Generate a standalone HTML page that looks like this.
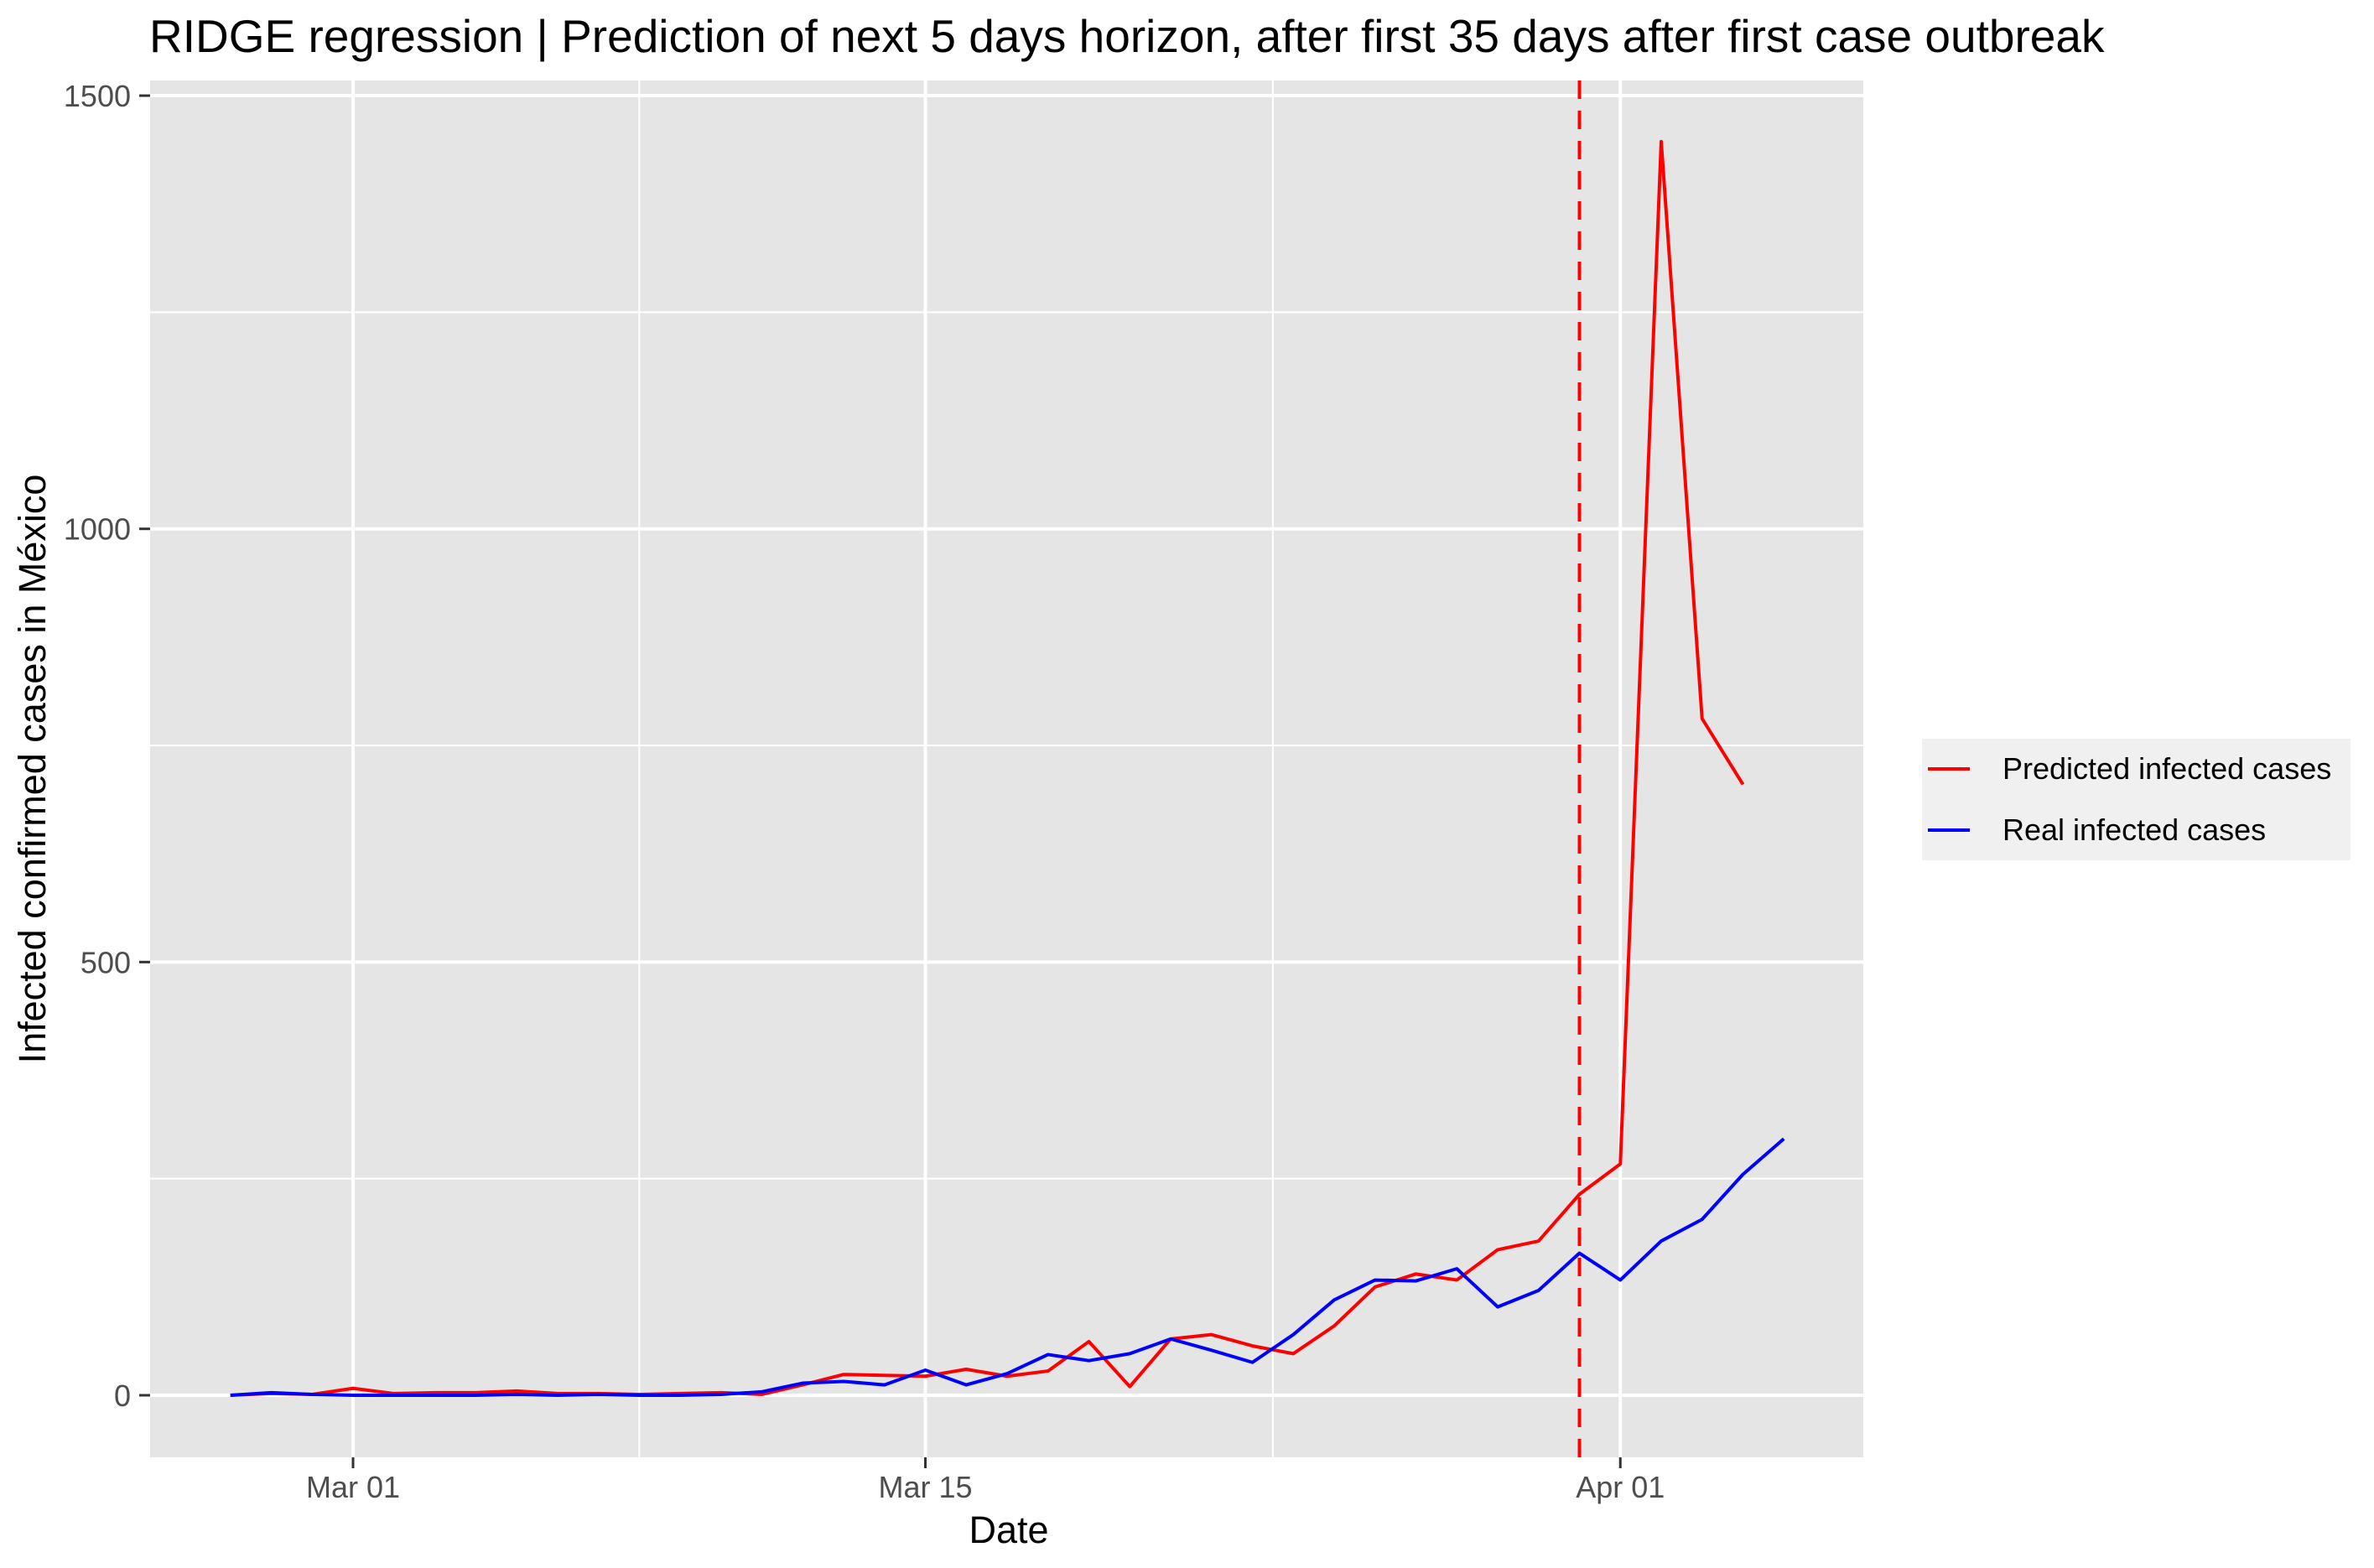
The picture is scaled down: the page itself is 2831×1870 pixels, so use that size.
<!DOCTYPE html>
<html><head><meta charset="utf-8"><style>
body{margin:0;background:#fff}
svg{display:block;font-family:"Liberation Sans",Arial,sans-serif}
</style></head><body>
<svg id="chart" width="2831" height="1870" viewBox="0 0 2831 1870">
<text x="178" y="62" font-size="55" fill="#000">RIDGE regression | Prediction of next 5 days horizon, after first 35 days after first case outbreak</text>
<rect x="179" y="96" width="2043" height="1642" fill="#e5e5e5"/>
<g id="grid"></g>
<g id="axes"></g>
<g id="series"></g>
<text x="1203" y="1840" font-size="45" text-anchor="middle" fill="#000">Date</text>
<text transform="translate(54,917) rotate(-90)" font-size="45" text-anchor="middle" fill="#000">Infected confirmed cases in México</text>
<g>
<rect x="2292" y="881" width="511" height="145" fill="#f0f0f0"/>
<line x1="2299" y1="917" x2="2349" y2="917" stroke="#ff0000" stroke-width="4"/>
<text x="2388" y="929" font-size="36" fill="#000">Predicted infected cases</text>
<line x1="2299" y1="990" x2="2349" y2="990" stroke="#0000ff" stroke-width="4"/>
<text x="2388" y="1002" font-size="36" fill="#000">Real infected cases</text>
</g>
</svg>
<script>
const startDay = -3; // Feb 27 relative to Mar 01
const predicted = [0,2,1,8,2,3,3,5,2,2,1,2,3,1,12,24,23,22,30,22,28,62,10,65,70,57,48,80,125,140,133,168,178,232,267,1447,781,705];
const real = [0,3,1,0,0,0,0,1,0,1,0,0,1,4,14,16,12,29,12,25,47,40,48,65,52,38,70,110,133,132,146,102,121,164,133,178,203,255,296];
const yTicks = [0,500,1000,1500];
const yMinor = [250,750,1250];
const xTickDays = [0,14,31];
const xTickLabels = ["Mar 01","Mar 15","Apr 01"];
const xMinorDays = [7,22.5];
const cutoffDay = 30;

const X0 = 421, DAY = 48.75;
const xs = d => X0 + d*DAY;
const Y0 = 1664, YS = 1.0333;
const ys = v => Y0 - v*YS;
const NS = "http://www.w3.org/2000/svg";
function mk(tag, attrs, parent){const e=document.createElementNS(NS,tag);for(const k in attrs)e.setAttribute(k,attrs[k]);parent.appendChild(e);return e;}
const grid=document.getElementById('grid'), axes=document.getElementById('axes'), series=document.getElementById('series');

yMinor.forEach(v=>{const e=mk('line',{x1:179,x2:2222,y1:ys(v),y2:ys(v),stroke:'#fff','stroke-width':2},grid);

});
xMinorDays.forEach(d=>{const e=mk('line',{x1:xs(d),x2:xs(d),y1:96,y2:1738,stroke:'#fff','stroke-width':2},grid);

});
yTicks.forEach(v=>{const e=mk('line',{x1:179,x2:2222,y1:ys(v),y2:ys(v),stroke:'#fff','stroke-width':4},grid);


const t=mk('line',{x1:166,x2:179,y1:ys(v),y2:ys(v),stroke:'#333','stroke-width':3},axes);


const l=mk('text',{x:156,y:ys(v)+13,'font-size':36,'text-anchor':'end',fill:'#4d4d4d'},axes);l.textContent=v;

});
xTickDays.forEach((d,i)=>{const e=mk('line',{x1:xs(d),x2:xs(d),y1:96,y2:1738,stroke:'#fff','stroke-width':4},grid);


const t=mk('line',{x1:xs(d),x2:xs(d),y1:1738,y2:1751,stroke:'#333','stroke-width':3},axes);


const l=mk('text',{x:xs(d),y:1786,'font-size':36,'text-anchor':'middle',fill:'#4d4d4d'},axes);l.textContent=xTickLabels[i];

});

const cut=mk('line',{x1:xs(cutoffDay),x2:xs(cutoffDay),y1:96,y2:1738,stroke:'#ff0000','stroke-width':4,'stroke-dasharray':'22 14'},series);



function path(arr,color,name){
 const p=mk('polyline',{points:arr.map((v,i)=>xs(startDay+i)+','+ys(v)).join(' '),fill:'none',stroke:color,'stroke-width':4,'stroke-linejoin':'round'},series);
 
 
}
path(predicted,'#ff0000','predicted-cases-line');
path(real,'#0000ff','real-cases-line');
</script>
</body></html>
